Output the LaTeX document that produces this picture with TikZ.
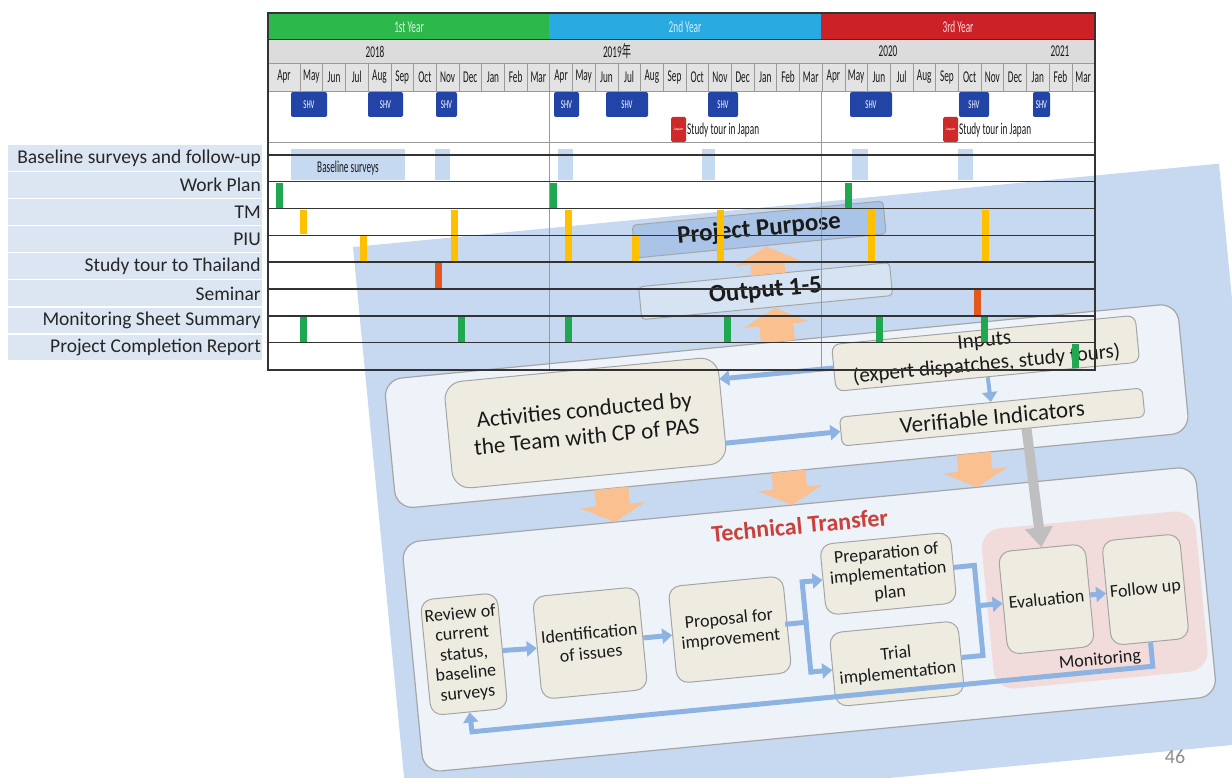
\documentclass[tikz,border=0pt]{standalone}
\usepackage{fontspec}
\setmainfont{Carlito}
\newfontfamily\cjkf{Noto Sans CJK SC}
\usetikzlibrary{arrows.meta}
\newcommand\gcond[1]{\scalebox{0.56}[1]{#1}}
\newcommand\gbar[4]{\fill[#4] (#1,{155+26.8*#2+1}) rectangle ({#1+7},{155+26.8*#3-1});}
\definecolor{bgblue}{HTML}{C6D9F0}
\definecolor{panelfill}{HTML}{EEF3FA}
\definecolor{panelline}{HTML}{A6A6A6}
\definecolor{beige}{HTML}{EEECE1}
\definecolor{beigeline}{HTML}{A5A5A5}
\definecolor{pinkmon}{HTML}{F2DCDB}
\definecolor{barrowc}{HTML}{8DB3E2}
\definecolor{oarrow}{HTML}{FAC08F}
\definecolor{garrow}{HTML}{BFBFBF}
\definecolor{ppfill}{HTML}{A9C4E6}
\definecolor{outfill}{HTML}{D5E3F3}
\definecolor{ttred}{HTML}{C8413B}
\definecolor{txtdark}{HTML}{1A1A1A}
\definecolor{yg}{HTML}{2DB84B}
\definecolor{yb}{HTML}{29ABE2}
\definecolor{yr}{HTML}{CC2127}
\definecolor{hdrgray}{HTML}{DCDCDC}
\definecolor{mongray}{HTML}{E3E3E3}
\definecolor{sepgray}{HTML}{9A9A9A}
\definecolor{gridline}{HTML}{333333}
\definecolor{shvblue}{HTML}{2144A6}
\definecolor{jpred}{HTML}{CF2A27}
\definecolor{lblfill}{HTML}{DCE6F2}
\definecolor{lbltext}{HTML}{262626}
\definecolor{bargreen}{HTML}{1FA84F}
\definecolor{baryellow}{HTML}{FFC000}
\definecolor{barorange}{HTML}{E2581E}
\definecolor{baselineblue}{HTML}{C5D9F1}
\definecolor{pagegray}{HTML}{8C8C8C}
\begin{document}
\begin{tikzpicture}[x=1pt,y=-1pt,
  panel/.style={draw=panelline, line width=1.2pt, fill=panelfill, rounded corners=18pt, inner sep=0pt},
  bbox/.style={draw=beigeline, line width=1pt, fill=beige, rounded corners=12pt, align=center, text=txtdark, inner sep=1pt, font=\fontsize{18}{20}\selectfont},
  ppstyle/.style={draw=panelline, line width=1pt, rounded corners=4pt, minimum width=252pt, minimum height=33pt, inner sep=0pt, text=txtdark, font=\bfseries\fontsize{25}{25}\selectfont},
  barrow/.style={draw=barrowc, line width=5pt, -{Triangle[width=15pt,length=10pt]}},
  bline/.style={draw=barrowc, line width=5pt},
  oarr/.style={draw=oarrow, line width=34pt, -{Triangle[width=64pt,length=17pt]}},
  garr/.style={draw=garrow, line width=10pt, -{Triangle[width=27pt,length=20pt]}},
  gtxt/.style={font=\fontsize{16.5}{16.5}\selectfont, inner sep=0pt, text=black!90},
  lbl/.style={font=\fontsize{19.5}{20}\selectfont, inner sep=0pt, text=lbltext, anchor=east}
]
\useasboundingbox (0,0) rectangle (1232,778);
\begin{scope}
\clip (0,0) rectangle (1232,778);
\begin{scope}[shift={(353,247)}, rotate=5.5, transform shape]
  \fill[bgblue] (0,0) rectangle (870,580);
  \node[panel, minimum width=797pt, minimum height=130pt] (up) at (416.5,200) {};
  \node[panel, minimum width=797pt, minimum height=231pt] (low) at (418.5,414.5) {};
  % top boxes
  \node[ppstyle, fill=ppfill] (pp) at (406,21.5) {Project Purpose};
  \node[ppstyle, fill=outfill] (out) at (406.5,83.5) {Output 1-5};
  \coordinate (u1s) at (411,67); \coordinate (u1e) at (411,39);
  \draw[oarr] (u1s) -- (u1e);
  \coordinate (u2s) at (414,135); \coordinate (u2e) at (414,101);
  \draw[oarr] (u2s) -- (u2e);
  \foreach \u [count=\k] in {234,412,598}{
    \coordinate (ds\k) at (\u,265); \coordinate (de\k) at (\u,299);
    \draw[oarr] (ds\k) -- (de\k);
  }
  % upper panel content
  \node[bbox, rounded corners=18pt, minimum width=275pt, minimum height=107pt, font=\fontsize{23}{27}\selectfont] (act) at (214.5,197.5) {Activities conducted by\\the Team with CP of PAS};
  \node[bbox, rounded corners=8pt, minimum width=305pt, minimum height=47pt, inner sep=0pt, font=\fontsize{21}{24}\selectfont] (inp) at (619.5,166.5) {Inputs\\(expert dispatches, study tours)};
  \node[bbox, rounded corners=6pt, minimum width=304pt, minimum height=29pt, inner sep=0pt, font=\fontsize{23}{23}\selectfont] (vi) at (620,230.5) {Verifiable Indicators};
  \coordinate (ia) at (352,166.5);
  \draw[barrow] (inp.west) -- (ia);
  \coordinate (av) at (352,231);
  \draw[barrow] (av) -- (vi.west);
  \draw[barrow, line width=4pt] (inp.south) -- (vi.north);
  % lower panel content
  \node[font=\bfseries\fontsize{24}{24}\selectfont, text=ttred] (tt) at (418,320) {Technical Transfer};
  \node[fill=pinkmon, rounded corners=20pt, minimum width=215pt, minimum height=161pt, inner sep=0pt] (pink) at (704.5,422.5) {};
  \node[bbox, minimum width=77pt, minimum height=116pt] (rev) at (71.5,416) {Review of\\current\\status,\\baseline\\surveys};
  \node[bbox, minimum width=106pt, minimum height=103pt] (ident) at (198,417) {Identification\\of issues};
  \node[bbox, minimum width=115pt, minimum height=97pt] (prop) at (338.5,417) {Proposal for\\improvement};
  \node[bbox, minimum width=131pt, minimum height=71pt] (prep) at (501.5,376.5) {Preparation of\\implementation\\plan};
  \node[bbox, minimum width=129pt, minimum height=74pt] (trial) at (501.5,467) {Trial\\implementation};
  \node[bbox, minimum width=87pt, minimum height=103pt] (eval) at (656.5,417) {Evaluation};
  \node[bbox, minimum width=78pt, minimum height=105pt] (fol) at (756,417) {Follow up};
  \node[font=\fontsize{18}{18}\selectfont, text=txtdark] (moni) at (704,483) {Monitoring};
  \draw[barrow] (rev.east) -- (ident.west);
  \draw[barrow] (ident.east) -- (prop.west);
  \coordinate (s1) at (415,417); \coordinate (s2) at (415,376.5); \coordinate (s3) at (415,467);
  \draw[bline, line cap=rect] (prop.east) -- (s1);
  \draw[bline, line cap=rect] (s2) -- (s3);
  \draw[barrow] (s2) -- (prep.west);
  \draw[barrow] (s3) -- (trial.west);
  \coordinate (j1) at (588,376.5); \coordinate (j2) at (588,417); \coordinate (j3) at (588,467);
  \draw[bline, line cap=rect] (j1) -- (j3);
  \draw[bline] (prep.east) -- (j1);
  \draw[bline] (trial.east) -- (j3);
  \draw[barrow] (j2) -- (eval.west);
  \draw[barrow] (eval.east) -- (fol.west);
  \coordinate (l1) at (756,494); \coordinate (l2) at (72,494);
  \draw[barrow] (fol.south) -- (l1) -- (l2) -- (rev.south);
  \coordinate (gs) at (653,245);
  \draw[garr] (gs) -- (eval.north);
\end{scope}
\end{scope}
% ===== Gantt chart =====
\fill[yg] (268,13) rectangle (549,40);
\fill[yb] (549,13) rectangle (821,40);
\fill[yr] (821,13) rectangle (1095,40);
\node[gtxt, text=white!85!yg] (yr1) at (409,27) {\gcond{1st Year}};
\node[gtxt, text=white!80!yb] (yr2) at (685,27) {\gcond{2nd Year}};
\node[gtxt, text=white!85!yr] (yr3) at (958,27) {\gcond{3rd Year}};
\fill[hdrgray] (268,40) rectangle (1095,63);
\node[gtxt] (yy1) at (375,51.5) {\gcond{2018}};
\node[gtxt] (yy2) at (617,51.5) {\gcond{2019{\cjkf 年}}};
\node[gtxt] (yy3) at (888,51.5) {\gcond{2020}};
\node[gtxt] (yy4) at (1060,51.5) {\gcond{2021}};
\fill[mongray] (268,63) rectangle (1095,91);
\foreach \i in {0,...,34}{\draw[sepgray, line width=0.6pt] ({300+\i*22.7},63) -- ({300+\i*22.7},91);}
\foreach \m [count=\i from 0] in {Apr,May,Jun,Jul,Aug,Sep,Oct,Nov,Dec,Jan,Feb,Mar,Apr,May,Jun,Jul,Aug,Sep,Oct,Nov,Dec,Jan,Feb,Mar,Apr,May,Jun,Jul,Aug,Sep,Oct,Nov,Dec,Jan,Feb,Mar}{
  \ifnum\i=0 \node[gtxt] (mo\i) at (284,77) {\gcond{\m}};
  \else \node[gtxt] (mo\i) at ({300+(\i-0.5)*22.7},77) {\gcond{\m}}; \fi
}
\fill[white] (268,91) rectangle (1095,155);
\foreach \a/\b [count=\k] in {291/327,368/403,436/457,554/579,606/648,708/738,850/892,959/989,1033/1050}{
  \fill[shvblue, rounded corners=2pt] (\a,92) rectangle (\b,117);
  \node[gtxt, text=white, font=\fontsize{12}{12}\selectfont] (shv\k) at ({(\a+\b)/2},104.5) {\gcond{SHV}};
}
\foreach \a [count=\k] in {671,943}{
  \fill[jpred, rounded corners=1.5pt] (\a,117) rectangle ({\a+15},142);
  \node[inner sep=0pt, text=white, font=\fontsize{4}{4}\selectfont] (jpi\k) at ({\a+7.5},129.5) {Japan};
  \node[gtxt, anchor=west] (st\k) at ({\a+16},130) {\gcond{Study tour in Japan}};
}
% baseline row
\foreach \a/\b in {291/405,435/450,558/573,702/715,852/868,958/973}{
  \fill[baselineblue] (\a,149) rectangle (\b,180);
}
\node[gtxt] (bls) at (348,168) {\gcond{Baseline surveys}};
% bars
\foreach \x in {276,550,845}{\gbar{\x}{1}{2}{bargreen}}
\gbar{300}{2}{3}{baryellow}
\foreach \x in {360,632}{\gbar{\x}{3}{4}{baryellow}}
\foreach \x in {451,565,717,868,982}{\gbar{\x}{2}{4}{baryellow}}
\gbar{435}{4}{5}{barorange}
\gbar{974}{5}{6}{barorange}
\foreach \x in {300,458,565,724,876,981}{\gbar{\x}{6}{7}{bargreen}}
\gbar{1072}{7}{8}{bargreen}
% grid
\draw[sepgray, line width=0.6pt] (268,142) -- (1095,142);
\draw[sepgray, line width=0.5pt] (549,91) -- (549,370);
\draw[sepgray, line width=0.5pt] (821,91) -- (821,370);
\draw[gridline, line width=1pt] (268,40) -- (1095,40);
\draw[sepgray, line width=0.8pt] (268,63) -- (1095,63);
\draw[sepgray, line width=0.8pt] (268,91) -- (1095,91);
\foreach \r in {0,...,7}{\draw[gridline, line width=1.4pt] (268,{155+26.8*\r}) -- (1095,{155+26.8*\r});}
\draw[gridline, line width=1.8pt] (268,13) rectangle (1095,370);
% left labels
\foreach \t [count=\k from 0] in {Baseline surveys and follow-up,Work Plan,TM,PIU,Study tour to Thailand,Seminar,Monitoring Sheet Summary,Project Completion Report}{
  \fill[lblfill] (8,{145+27.1*\k}) rectangle (262,{145+27.1*\k+25.6});
  \node[lbl] (lab\k) at (261,{145+27.1*\k+13}) {\t};
}
\node[text=pagegray, font=\fontsize{20}{20}\selectfont, inner sep=0pt] (pg) at (1175,757) {46};
\end{tikzpicture}
\end{document}
